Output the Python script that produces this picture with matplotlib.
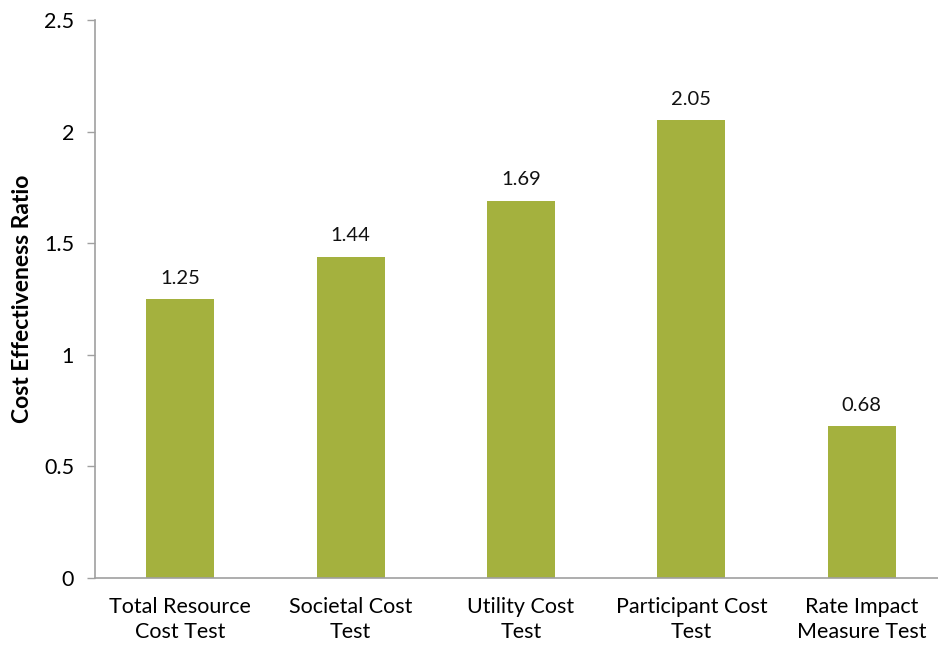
import matplotlib
matplotlib.use("Agg")
import matplotlib.pyplot as plt

categories = ["Total Resource\nCost Test", "Societal Cost\nTest", "Utility Cost\nTest",
              "Participant Cost\nTest", "Rate Impact\nMeasure Test"]
ratios = [1.25, 1.44, 1.69, 2.05, 0.68]
y_ticks = [0, 0.5, 1, 1.5, 2, 2.5]
y_tick_labels = ["0", "0.5", "1", "1.5", "2", "2.5"]

plt.rcParams["font.family"] = ["Lato", "DejaVu Sans"]

W, H = 938, 650
fig = plt.figure(figsize=(W / 100, H / 100), dpi=100)
left, right, bottom, top = 95, 947, 578, 20
ax = fig.add_axes([left / W, 1 - bottom / H, (right - left) / W, (bottom - top) / H])

bar_color = "#A4B13E"
x = range(len(categories))
ax.bar(x, ratios, width=0.4, color=bar_color)
ax.set_xlim(-0.5, len(categories) - 0.5)
ax.set_ylim(0, 2.5)

for xi, v in zip(x, ratios):
    ax.annotate(f"{v:.2f}", (xi, v), xytext=(0, 9), textcoords="offset points",
                ha="center", va="bottom", fontsize=14.5, color="#111111")

ax.set_yticks(y_ticks)
ax.set_yticklabels(y_tick_labels, fontsize=15.5)
ax.set_xticks(list(x))
ax.set_xticklabels(categories, fontsize=15.5, linespacing=1.3)
ax.tick_params(axis="x", length=0, pad=14)
ax.tick_params(axis="y", length=6, width=1, color="#A0A0A0", pad=9, direction="out")

for s in ["top", "right"]:
    ax.spines[s].set_visible(False)
for s in ["left", "bottom"]:
    ax.spines[s].set_color("#A0A0A0")
    ax.spines[s].set_linewidth(1.2)

ax.set_ylabel("Cost Effectiveness Ratio", fontsize=16.5, fontweight="bold", labelpad=8)

fig.savefig("out.png", dpi=100)
